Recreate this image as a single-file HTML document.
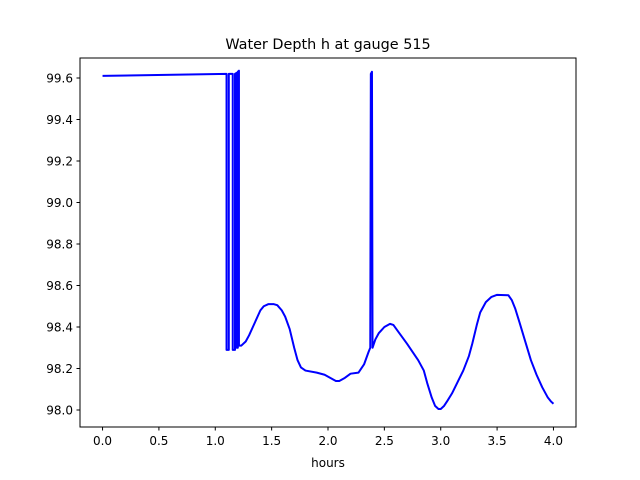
<!DOCTYPE html>
<html><head><meta charset="utf-8"><style>body{margin:0;background:#fff}svg{display:block;font-family:"DejaVu Sans","Liberation Sans",sans-serif}</style></head>
<body>
<svg id="c" width="640" height="480">
<text x="328" y="49" text-anchor="middle" font-size="14.4">Water Depth h at gauge 515</text>
<rect x="80" y="58" width="496" height="369" fill="none" stroke="#000" stroke-width="1"/>
<g id="ax"></g>
<text x="328" y="467" text-anchor="middle" font-size="12">hours</text>
</svg>
<script>
const hours=[0,1.10,1.10,1.12,1.12,1.155,1.155,1.175,1.175,1.19,1.19,1.20,1.20,1.21,1.21,1.23,1.27,1.3,1.35,1.4,1.43,1.47,1.52,1.55,1.59,1.62,1.66,1.7,1.73,1.76,1.8,1.9,1.97,2.02,2.07,2.1,2.15,2.2,2.27,2.32,2.36,2.375,2.38,2.39,2.395,2.42,2.45,2.5,2.55,2.58,2.62,2.7,2.8,2.85,2.88,2.92,2.95,2.98,3.0,3.03,3.06,3.1,3.2,3.25,3.28,3.32,3.35,3.4,3.45,3.5,3.6,3.63,3.66,3.7,3.75,3.8,3.85,3.9,3.95,3.98,4.0];
const depth=[99.61,99.62,98.29,98.29,99.62,99.62,98.29,98.29,99.62,99.625,98.30,98.30,99.63,99.635,98.31,98.31,98.33,98.36,98.42,98.48,98.50,98.51,98.51,98.505,98.48,98.45,98.39,98.30,98.24,98.205,98.19,98.18,98.17,98.155,98.14,98.14,98.155,98.175,98.18,98.22,98.28,98.30,99.62,99.63,98.30,98.34,98.37,98.40,98.415,98.41,98.38,98.32,98.24,98.19,98.13,98.06,98.02,98.005,98.005,98.02,98.045,98.08,98.19,98.26,98.32,98.41,98.47,98.52,98.545,98.555,98.553,98.53,98.49,98.42,98.33,98.24,98.17,98.11,98.06,98.04,98.03];
const xTicks=[0,0.5,1,1.5,2,2.5,3,3.5,4];
const yTicks=[98.0,98.2,98.4,98.6,98.8,99.0,99.2,99.4,99.6];
const NS='http://www.w3.org/2000/svg';
const X=v=>80+(v+0.2)/4.4*496;
const Y=v=>410-(v-98.0)*207.5;
const g=document.getElementById('ax');
function mk(t,a){const e=document.createElementNS(NS,t);for(const k in a)e.setAttribute(k,a[k]);g.appendChild(e);return e;}
xTicks.forEach(v=>{
 const l=mk('line',{x1:X(v),x2:X(v),y1:427,y2:430.5,stroke:'#000'});
 
 
 const t=mk('text',{x:X(v),y:445,'text-anchor':'middle','font-size':12});
 t.textContent=v.toFixed(1);
 
 
});
yTicks.forEach(v=>{
 const l=mk('line',{x1:76.5,x2:80,y1:Y(v),y2:Y(v),stroke:'#000'});
 
 
 const t=mk('text',{x:73,y:Y(v)+4.5,'text-anchor':'end','font-size':12});
 t.textContent=v.toFixed(1);
 
 
});
const p=mk('polyline',{points:hours.map((h,i)=>X(h)+','+Y(depth[i])).join(' '),fill:'none',stroke:'#0000ff','stroke-width':2,'stroke-linejoin':'round'});


</script>
</body></html>
